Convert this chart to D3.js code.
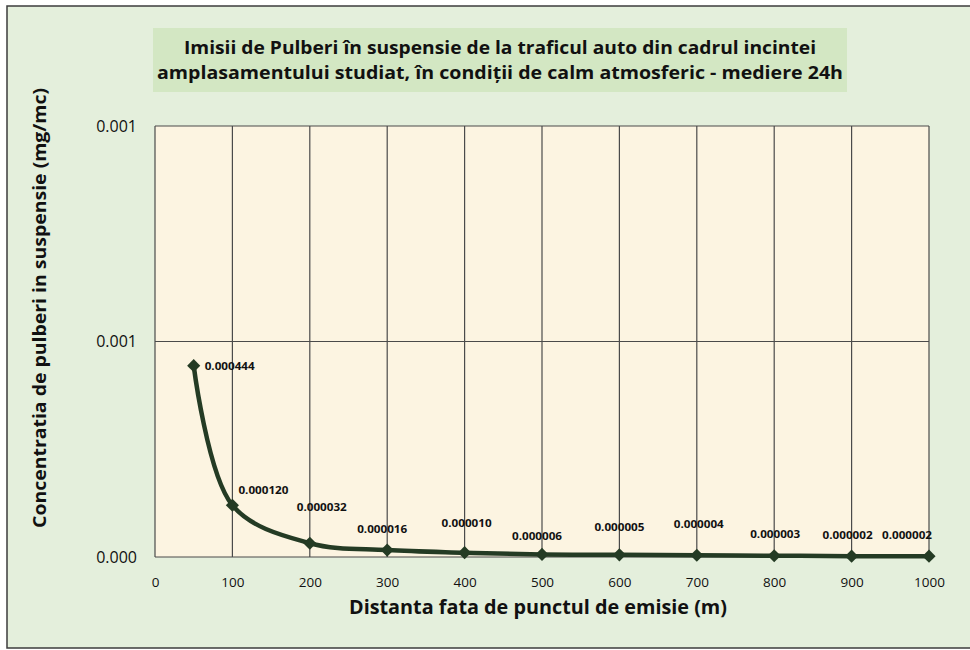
<!DOCTYPE html>
<html>
<head>
<meta charset="utf-8">
<script src="https://cdn.jsdelivr.net/npm/d3@7"></script>
<style>
  body { margin: 0; background: #fff; }
  text { font-family: "Open Sans", "Noto Sans", sans-serif; fill: #111; }
</style>
</head>
<body>
<div id="chart"></div>
<script>
const WIDTH = 970, HEIGHT = 650;

// data
const distances = [50, 100, 200, 300, 400, 500, 600, 700, 800, 900, 1000];
const concentrations = [0.000444, 0.000120, 0.000032, 0.000016, 0.000010, 0.000006, 0.000005, 0.000004, 0.000003, 0.000002, 0.000002];
const xTicks = [0, 100, 200, 300, 400, 500, 600, 700, 800, 900, 1000];
const yTicks = [0, 0.0005, 0.001];
const titleLines = [
    "Imisii de Pulberi în suspensie de la traficul auto din cadrul incintei",
    "amplasamentului studiat, în condiții de calm atmosferic - mediere 24h"
];
// hand placed label offsets (dx, dy) like in the original
const labelDx = [11, 31, 12, -5, 2, -5, 0, 2, 1, -4, -22];
const labelDy = [4, -11, -32, -17, -26, -14, -24, -27, -18, -17, -17];

const PLOT = { left: 155, right: 929, top: 126, bottom: 557 };

const svg = d3.select("#chart")
    .append("svg")
    .attr("width", WIDTH)
    .attr("height", HEIGHT)

svg.append("rect")
    .attr("x", 7).attr("y", 6)
    .attr("width", 990).attr("height", 642)
    .attr("fill", "#e4efdc")
    .attr("stroke", "#3c3c3c")
    .attr("stroke-width", 1.5)

// title box
svg.append("rect")
    .attr("x", 153).attr("y", 28)
    .attr("width", 694).attr("height", 64)
    .attr("fill", "#d3e7c3")
const titleLen = [632, 686];
svg.selectAll(".title")
    .data(titleLines)
    .enter().append("text")
    .attr("class", "title")
    .attr("x", 500)
    .attr("y", (d, i) => 54 + i * 25)
    .attr("text-anchor", "middle")
    .attr("font-size", 18.5)
    .attr("font-weight", "bold")
    .attr("textLength", (d, i) => titleLen[i])
    .attr("lengthAdjust", "spacingAndGlyphs")
    .text(d => d)

const x = d3.scaleLinear().domain([0, 1000]).range([PLOT.left, PLOT.right]);
const y = d3.scaleLinear().domain([0, 0.001]).range([PLOT.bottom, PLOT.top]);

svg.append("rect")
    .attr("x", PLOT.left).attr("y", PLOT.top)
    .attr("width", PLOT.right - PLOT.left)
    .attr("height", PLOT.bottom - PLOT.top)
    .attr("fill", "#fcf4e1")

// grid
svg.selectAll(".vgrid")
    .data(xTicks)
    .enter().append("line")
    .attr("x1", d => x(d)).attr("x2", d => x(d))
    .attr("y1", PLOT.top).attr("y2", PLOT.bottom)
    .attr("stroke", "#4a4a4a")
    .attr("stroke-width", 1.2)
svg.selectAll(".hgrid")
    .data(yTicks)
    .enter().append("line")
    .attr("x1", PLOT.left).attr("x2", PLOT.right)
    .attr("y1", d => y(d)).attr("y2", d => y(d))
    .attr("stroke", "#4a4a4a")
    .attr("stroke-width", 1.2)

// axes (labels only, Excel style)
const xAxis = svg.append("g")
    .attr("transform", `translate(0,${PLOT.bottom})`)
    .call(d3.axisBottom(x).tickValues(xTicks).tickFormat(d3.format("d")).tickSize(0).tickPadding(20))
xAxis.select(".domain").remove()
xAxis.selectAll("text").attr("font-size", 13.5).attr("fill", "#111")
    .attr("font-family", "'Open Sans', sans-serif")

const yAxis = svg.append("g")
    .attr("transform", `translate(${PLOT.left},0)`)
    .call(d3.axisLeft(y).tickValues(yTicks).tickFormat(d3.format(".3f")).tickSize(0).tickPadding(18))
yAxis.select(".domain").remove()
yAxis.selectAll("text").attr("font-size", 16).attr("fill", "#111")
    .attr("font-family", "'Open Sans', sans-serif")

// axis titles
svg.append("text")
    .attr("x", 538).attr("y", 614)
    .attr("text-anchor", "middle")
    .attr("font-size", 19)
    .attr("font-weight", "bold")
    .attr("textLength", 378)
    .attr("lengthAdjust", "spacingAndGlyphs")
    .text("Distanta fata de punctul de emisie (m)")
svg.append("text")
    .attr("transform", "translate(46,308) rotate(-90)")
    .attr("text-anchor", "middle")
    .attr("font-size", 18)
    .attr("font-weight", "bold")
    .attr("textLength", 440)
    .attr("lengthAdjust", "spacingAndGlyphs")
    .text("Concentratia de pulberi in suspensie (mg/mc)")

// series
const points = distances.map((d, i) => ({ x: d, y: concentrations[i], i: i }));
const line = d3.line()
    .x(d => x(d.x))
    .y(d => y(d.y))
    .curve(d3.curveCatmullRom.alpha(0.5))
svg.append("path")
    .datum(points)
    .attr("d", line)
    .attr("fill", "none")
    .attr("stroke", "#243b24")
    .attr("stroke-width", 4.5)
    .attr("stroke-linejoin", "round")

svg.selectAll(".pt")
    .data(points)
    .enter().append("path")
    .attr("class", "pt")
    .attr("transform", d => `translate(${x(d.x)},${y(d.y)})`)
    .attr("d", d3.symbol().type(d3.symbolDiamond2).size(110))
    .attr("fill", "#243b24")

svg.selectAll(".lbl")
    .data(points)
    .enter().append("text")
    .attr("class", "lbl")
    .attr("x", d => x(d.x) + labelDx[d.i])
    .attr("y", d => y(d.y) + labelDy[d.i])
    .attr("text-anchor", d => d.i === 0 ? "start" : "middle")
    .attr("font-size", 10.5)
    .attr("font-weight", "bold")
    .attr("textLength", 50)
    .attr("lengthAdjust", "spacingAndGlyphs")
    .text(d => d.y.toFixed(6))
</script>
</body>
</html>
